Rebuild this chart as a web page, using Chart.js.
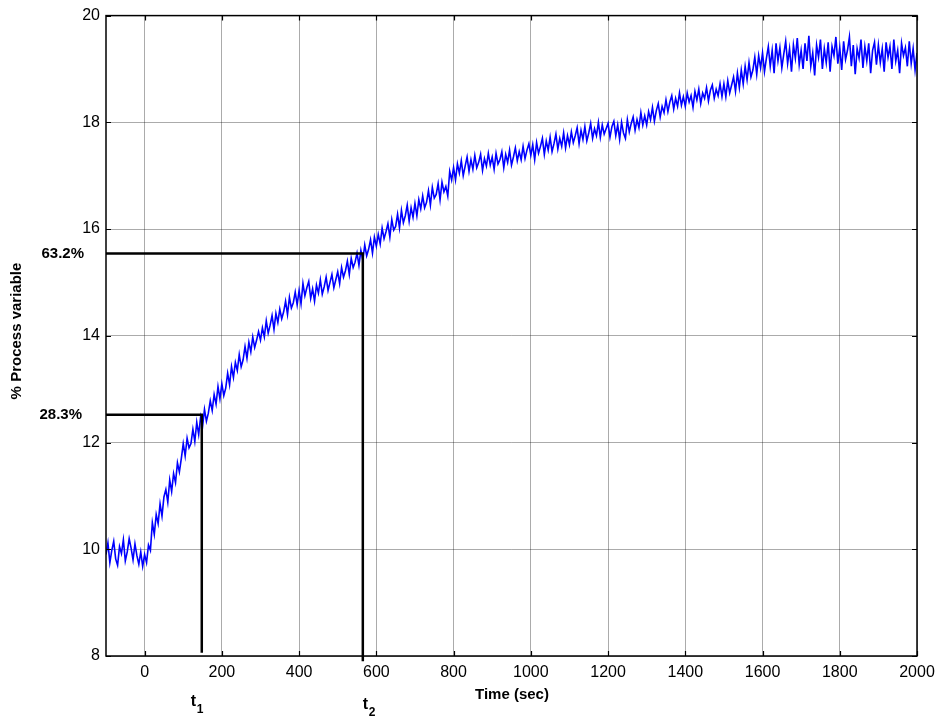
<!DOCTYPE html>
<html><head><meta charset="utf-8">
<script src="https://cdn.jsdelivr.net/npm/chart.js@4/dist/chart.umd.min.js"></script>
<style>html,body{margin:0;padding:0;background:#fff}#wrap{width:946px;height:716px}</style>
</head><body><div id="wrap"><canvas id="c" width="946" height="716"></canvas></div>
<script>
// sampling grid of the recorded signal (seconds)
const timeStart = -100;
const timeStep = 5;
// % process variable, every 5 s
const processValues = [
9.90,10.12,9.75,9.98,10.15,9.82,9.70,10.05,9.92,10.18,9.78,9.95,10.20,10.02,9.80,10.10,9.88,9.72,9.95,9.68,
9.90,9.75,10.08,9.98,10.50,10.28,10.65,10.48,10.85,10.62,10.98,11.12,10.88,11.30,11.08,11.42,11.25,11.62,11.45,11.70,
11.98,11.75,12.08,11.90,11.98,12.25,12.02,12.38,12.15,12.48,12.30,12.62,12.40,12.55,12.78,12.60,12.90,12.72,13.05,12.82,
13.10,12.88,13.02,13.30,13.08,13.42,13.22,13.50,13.35,13.65,13.42,13.55,13.80,13.58,13.88,13.70,13.98,13.78,13.92,14.08,
13.92,14.15,13.98,14.28,14.05,14.20,14.38,14.12,14.42,14.25,14.50,14.32,14.45,14.65,14.40,14.72,14.52,14.62,14.82,14.58,
14.85,14.60,14.98,14.75,14.90,15.02,14.70,14.88,14.65,14.95,14.80,15.05,14.78,14.92,15.10,14.85,15.00,15.15,14.90,15.05,
15.20,14.98,15.28,15.10,15.22,15.40,15.15,15.45,15.28,15.38,15.55,15.32,15.60,15.42,15.70,15.50,15.62,15.80,15.55,15.85,
15.68,15.90,15.72,16.02,15.82,15.95,16.10,15.85,16.18,15.98,16.05,16.28,16.02,16.35,16.12,16.25,16.45,16.15,16.40,16.22,
16.48,16.25,16.55,16.38,16.62,16.40,16.50,16.72,16.45,16.78,16.58,16.65,16.85,16.55,16.88,16.70,16.80,16.62,17.08,16.92,
17.15,16.92,17.22,17.05,17.28,17.00,17.18,17.35,17.08,17.30,17.12,17.38,17.15,17.25,17.40,17.10,17.32,17.18,17.42,17.20,
17.35,17.12,17.42,17.22,17.30,17.45,17.15,17.40,17.25,17.48,17.20,17.35,17.52,17.28,17.45,17.30,17.55,17.32,17.48,17.60,
17.38,17.58,17.30,17.62,17.42,17.55,17.70,17.40,17.65,17.48,17.72,17.45,17.60,17.78,17.50,17.70,17.55,17.80,17.52,17.75,
17.58,17.82,17.62,17.75,17.90,17.60,17.85,17.68,17.92,17.65,17.80,17.98,17.70,17.88,17.75,18.00,17.72,17.95,17.78,17.88,
17.98,17.72,17.92,18.02,17.75,17.95,17.68,18.00,17.80,17.70,18.05,17.82,17.98,18.10,17.85,18.05,17.90,18.18,17.95,18.12,
17.95,18.20,18.05,18.28,18.02,18.22,18.35,18.10,18.30,18.18,18.42,18.20,18.38,18.50,18.25,18.45,18.30,18.55,18.32,18.48,
18.30,18.55,18.38,18.50,18.28,18.58,18.42,18.62,18.35,18.55,18.45,18.65,18.40,18.60,18.70,18.45,18.62,18.50,18.72,18.48,
18.72,18.48,18.78,18.55,18.70,18.85,18.58,18.92,18.65,18.98,18.72,19.05,18.80,19.12,18.85,18.98,19.22,18.90,19.25,19.02,
19.30,18.95,19.20,19.42,19.05,19.35,18.92,19.48,19.15,19.40,19.02,19.28,19.52,19.10,19.38,18.95,19.45,19.20,19.58,19.08,
19.35,19.00,19.48,19.15,19.62,19.05,19.30,18.88,19.45,19.22,19.55,19.00,19.38,19.12,19.50,18.95,19.42,19.25,19.60,19.10,
19.40,18.98,19.52,19.18,19.35,19.60,19.05,19.45,18.90,19.38,19.20,19.55,19.02,19.42,19.15,19.48,18.92,19.35,19.50,19.08,
19.45,19.12,19.38,18.95,19.50,19.22,19.42,19.00,19.55,19.15,19.35,18.92,19.48,19.25,19.40,19.05,19.52,19.10,19.38,18.98,19.30
];
const xTickValues = [0,200,400,600,800,1000,1200,1400,1600,1800,2000];
const yTickValues = [8,10,12,14,16,18,20];
const xRange = [-100, 2000];
const yRange = [8, 20];
// construction lines
const level632 = 15.54, level283 = 12.52;
const t1Time = 148, t2Time = 565;
const t1Bottom = 8.06, t2Bottom = 7.9;

const series = processValues.map((v, i) => ({x: timeStart + i * timeStep, y: v}));

const FONT = '"Liberation Sans", Arial, Helvetica, sans-serif';

const framePlugin = {
  id: 'frame',
  afterDatasetsDraw(chart) {
    const {ctx, chartArea: a, scales: {x, y}} = chart;
    ctx.save();
    ctx.strokeStyle = '#000';
    ctx.lineWidth = 1.5;
    ctx.strokeRect(a.left, a.top, a.right - a.left, a.bottom - a.top);
    ctx.lineWidth = 1.2;
    const tl = 5;
    ctx.beginPath();
    xTickValues.forEach(v => {
      const px = Math.round(x.getPixelForValue(v)) + 0.5;
      ctx.moveTo(px, a.bottom); ctx.lineTo(px, a.bottom - tl);
      ctx.moveTo(px, a.top); ctx.lineTo(px, a.top + tl);
    });
    yTickValues.forEach(v => {
      const py = Math.round(y.getPixelForValue(v)) + 0.5;
      ctx.moveTo(a.left, py); ctx.lineTo(a.left + tl, py);
      ctx.moveTo(a.right, py); ctx.lineTo(a.right - tl, py);
    });
    ctx.stroke();

    ctx.fillStyle = '#000';
    ctx.font = 'bold 15px ' + FONT;
    ctx.textAlign = 'right';
    ctx.textBaseline = 'middle';
    ctx.fillText('63.2%', a.left - 22, y.getPixelForValue(level632));
    ctx.fillText('28.3%', a.left - 24, y.getPixelForValue(level283));

    ctx.textAlign = 'center';
    ctx.font = 'bold 15px ' + FONT;
    ctx.fillText('Time (sec)', 512, 695);
    ctx.save();
    ctx.translate(17, 331);
    ctx.rotate(-Math.PI / 2);
    ctx.fillText('% Process variable', 0, 0);
    ctx.restore();

    ctx.textAlign = 'left';
    ctx.textBaseline = 'alphabetic';
    const t1x = x.getPixelForValue(t1Time);
    const t2x = x.getPixelForValue(t2Time);
    ctx.font = 'bold 16px ' + FONT;
    ctx.fillText('t', t1x - 11, 706);
    ctx.fillText('t', t2x, 709);
    ctx.font = 'bold 12px ' + FONT;
    ctx.fillText('1', t1x - 5, 713);
    ctx.fillText('2', t2x + 6, 716);
    ctx.restore();
  }
};

new Chart(document.getElementById('c'), {
  type: 'line',
  data: {
    datasets: [
      {data: [{x: xRange[0], y: level632}, {x: t2Time, y: level632}, {x: t2Time, y: t2Bottom}],
       borderColor: '#000', borderWidth: 2.5, pointRadius: 0, clip: false, tension: 0},
      {data: [{x: xRange[0], y: level283}, {x: t1Time, y: level283}, {x: t1Time, y: t1Bottom}],
       borderColor: '#000', borderWidth: 2.5, pointRadius: 0, clip: false, tension: 0},
      {data: series, borderColor: '#0000ff', borderWidth: 1.6, pointRadius: 0, tension: 0}
    ]
  },
  options: {
    responsive: false,
    animation: false,
    events: [],
    layout: {padding: {left: 0, top: 14, right: 29, bottom: 0}},
    plugins: {legend: {display: false}, tooltip: {enabled: false}, title: {display: false}},
    scales: {
      x: {
        type: 'linear', min: xRange[0], max: xRange[1],
        afterBuildTicks: s => { s.ticks = xTickValues.map(v => ({value: v})); },
        afterFit: s => { s.height = 60; },
        ticks: {color: '#000', font: {family: FONT, size: 16}, padding: 7, maxRotation: 0, autoSkip: false,
                callback: v => String(v)},
        grid: {color: 'rgba(0,0,0,0.33)', lineWidth: 1, drawTicks: false},
        border: {display: false}
      },
      y: {
        type: 'linear', min: yRange[0], max: yRange[1],
        afterBuildTicks: s => { s.ticks = yTickValues.map(v => ({value: v})); },
        afterFit: s => { s.width = 106; },
        ticks: {color: '#000', font: {family: FONT, size: 16}, padding: 6, callback: v => String(v)},
        grid: {color: 'rgba(0,0,0,0.33)', lineWidth: 1, drawTicks: false},
        border: {display: false}
      }
    }
  },
  plugins: [framePlugin]
});
</script>
</body></html>
